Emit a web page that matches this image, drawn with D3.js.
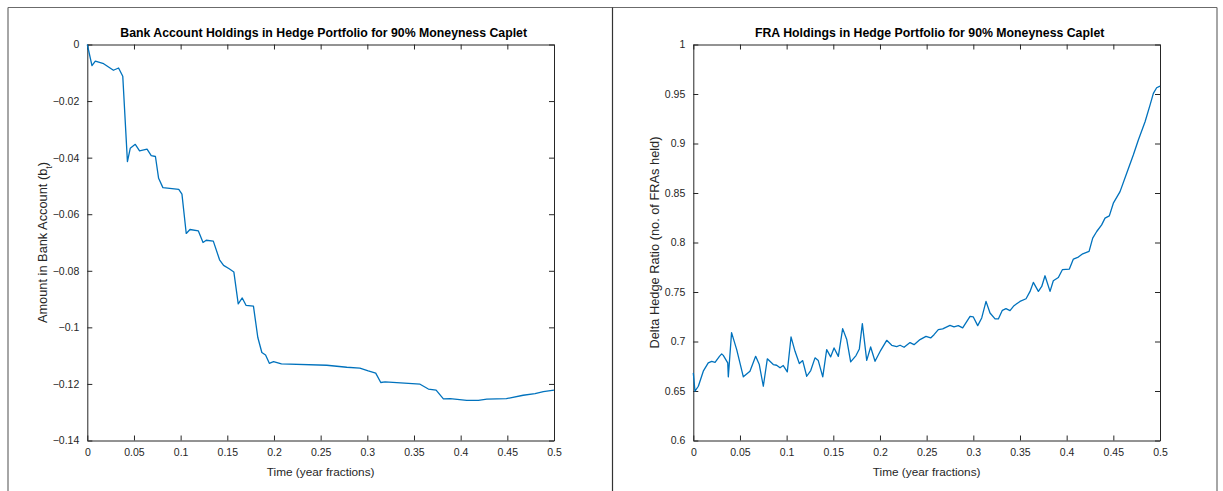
<!DOCTYPE html>
<html><head><meta charset="utf-8">
<script src="https://cdn.jsdelivr.net/npm/d3@7"></script>
<style>
html,body{margin:0;padding:0;background:#fff;}
svg{display:block;font-family:"Liberation Sans",Arial,Helvetica,sans-serif;}
</style></head>
<body>
<svg id="chart" width="1223" height="491"></svg>
<script>
// ---- data ----
const bankTime = [0,0.005,0.0086,0.0175,0.028,0.0335,0.038,0.043,0.046,0.0514,0.056,0.064,0.0685,0.073,0.0764,0.081,0.098,0.1014,0.106,0.110,0.119,0.124,0.1274,0.135,0.1417,0.146,0.152,0.157,0.1617,0.166,0.170,0.178,0.1827,0.187,0.191,0.195,0.1995,0.208,0.2566,0.278,0.292,0.301,0.309,0.3144,0.319,0.3565,0.3654,0.3737,0.3815,0.3887,0.4065,0.419,0.428,0.449,0.467,0.4797,0.4886,0.5];
const bankValue = [0,-0.0075,-0.0059,-0.0068,-0.0091,-0.0083,-0.0112,-0.0414,-0.0367,-0.0353,-0.0376,-0.037,-0.0393,-0.0396,-0.0473,-0.0506,-0.0512,-0.0529,-0.0668,-0.0654,-0.0659,-0.070,-0.0692,-0.0695,-0.0761,-0.0781,-0.0793,-0.0804,-0.0917,-0.0896,-0.0922,-0.0925,-0.1036,-0.1089,-0.1098,-0.1127,-0.1121,-0.1129,-0.1134,-0.1141,-0.1144,-0.1154,-0.1162,-0.1195,-0.1193,-0.1201,-0.1218,-0.1222,-0.1253,-0.1252,-0.1258,-0.1258,-0.1254,-0.1252,-0.124,-0.1234,-0.1227,-0.1222];

const fraTime = [0,0.0018,0.0054,0.0107,0.016,0.0197,0.0233,0.028,0.0304,0.0321,0.0369,0.0375,0.041,0.0465,0.0536,0.0607,0.0668,0.0707,0.075,0.0793,0.0857,0.0893,0.0929,0.0964,0.1007,0.1047,0.109,0.1136,0.1172,0.1215,0.1258,0.1304,0.1339,0.1387,0.1429,0.1472,0.1508,0.1554,0.16,0.1644,0.1686,0.1743,0.1779,0.1811,0.1858,0.19,0.1947,0.2008,0.2072,0.2126,0.2179,0.2215,0.2258,0.2322,0.2365,0.2429,0.2493,0.2543,0.2579,0.2625,0.2672,0.275,0.2793,0.2839,0.2886,0.2965,0.30,0.3047,0.309,0.3136,0.3179,0.3233,0.3268,0.3311,0.335,0.3393,0.3436,0.35,0.3565,0.3608,0.3643,0.3697,0.3733,0.3768,0.3822,0.3857,0.3911,0.3954,0.4029,0.4072,0.4125,0.4172,0.424,0.4279,0.4322,0.4375,0.4411,0.4457,0.45,0.4572,0.4643,0.4714,0.4768,0.484,0.4893,0.4929,0.4964,0.5];
const fraValue = [0.6683,0.6498,0.6548,0.67,0.6784,0.68,0.679,0.685,0.6875,0.686,0.6784,0.6643,0.709,0.6918,0.6643,0.67,0.685,0.6767,0.6548,0.6825,0.6767,0.676,0.6734,0.6757,0.6693,0.7046,0.6901,0.6777,0.6807,0.6649,0.6707,0.6835,0.6807,0.6643,0.6918,0.6845,0.6935,0.685,0.713,0.702,0.6794,0.6858,0.6925,0.718,0.681,0.6945,0.68,0.6911,0.7012,0.6962,0.6949,0.6962,0.6942,0.6989,0.6968,0.7019,0.7052,0.7036,0.7069,0.712,0.7127,0.7163,0.7147,0.716,0.7137,0.7254,0.7248,0.716,0.7238,0.7405,0.7288,0.7228,0.7228,0.7315,0.7332,0.7312,0.7362,0.7405,0.7432,0.7506,0.7597,0.7506,0.7556,0.7664,0.7506,0.7614,0.7647,0.7725,0.7732,0.7833,0.7853,0.7886,0.791,0.8044,0.8111,0.8178,0.8246,0.8269,0.8397,0.8514,0.87,0.8884,0.9035,0.922,0.9388,0.9506,0.9563,0.958];

const xTicks = [0,0.05,0.1,0.15,0.2,0.25,0.3,0.35,0.4,0.45,0.5];
const bankTicks = [0,-0.02,-0.04,-0.06,-0.08,-0.1,-0.12,-0.14];
const fraTicks = [0.6,0.65,0.7,0.75,0.8,0.85,0.9,0.95,1];

const titles = ["Bank Account Holdings in Hedge Portfolio for 90% Moneyness Caplet",
                "FRA Holdings in Hedge Portfolio for 90% Moneyness Caplet"];
const xLabel = "Time (year fractions)";

// ---- drawing ----
const svg = d3.select("#chart");
const axisColor = "#262626";
const lineColor = "#0072BD";

// outer frame
const frame = svg.append("g").attr("stroke","#6b6b6b").attr("stroke-width",1.2).attr("fill","none");
frame.append("line").attr("x1",8).attr("x2",1217).attr("y1",7.5).attr("y2",7.5);
frame.append("line").attr("x1",8).attr("x2",8).attr("y1",7.5).attr("y2",491);
frame.append("line").attr("x1",1217).attr("x2",1217).attr("y1",7.5).attr("y2",491);
frame.append("line").attr("x1",612.5).attr("x2",612.5).attr("y1",7.5).attr("y2",491).attr("stroke","#333");

function panel(opts){
  const {x0,x1,y0,y1,ydom,yticks,ytickFmt,times,values,title,ylabelParts,ylabelX} = opts;
  const x = d3.scaleLinear().domain([0,0.5]).range([x0,x1]);
  const y = d3.scaleLinear().domain(ydom).range([y1,y0]);
  const g = svg.append("g");

  const ax = d3.axisBottom(x).tickValues(xTicks).tickFormat(d3.format("")).tickSizeInner(-5).tickSizeOuter(0).tickPadding(10);
  const gb = g.append("g").attr("transform",`translate(0,${y1})`).call(ax);
  const at = d3.axisTop(x).tickValues(xTicks).tickFormat("").tickSizeInner(-5).tickSizeOuter(0);
  const gt = g.append("g").attr("transform",`translate(0,${y0})`).call(at);
  const ay = d3.axisLeft(y).tickValues(yticks).tickFormat(ytickFmt).tickSizeInner(-5).tickSizeOuter(0).tickPadding(8);
  const gl = g.append("g").attr("transform",`translate(${x0},0)`).call(ay);
  const ar = d3.axisRight(y).tickValues(yticks).tickFormat("").tickSizeInner(-5).tickSizeOuter(0);
  const gr = g.append("g").attr("transform",`translate(${x1},0)`).call(ar);

  [gb,gt,gl,gr].forEach(a=>{
    a.selectAll("path").attr("stroke",axisColor).attr("stroke-width",1);
    a.selectAll("line").attr("stroke",axisColor).attr("stroke-width",1);
    a.selectAll("text").attr("fill",axisColor).attr("font-size",10.5)
      .attr("font-family","'Liberation Sans',Arial,sans-serif");
  });
  gb.selectAll("text").attr("dy","0.55em");

  const data = times.map((t,i)=>[t,values[i]]);
  g.append("path").datum(data)
    .attr("fill","none").attr("stroke",lineColor).attr("stroke-width",1.3)
    .attr("stroke-linejoin","round")
    .attr("d",d3.line().x(d=>x(d[0])).y(d=>y(d[1])));

  g.append("text").attr("x",(x0+x1)/2 + 3).attr("y",y0-8)
    .attr("text-anchor","middle").attr("font-weight","bold").attr("font-size",12.3)
    .attr("fill","#000").text(title);
  g.append("text").attr("x",(x0+x1)/2).attr("y",y1+35)
    .attr("text-anchor","middle").attr("font-size",11.8).attr("fill",axisColor).text(xLabel);
  const yl = g.append("text")
    .attr("transform",`translate(${ylabelX},${(y0+y1)/2}) rotate(-90)`)
    .attr("text-anchor","middle").attr("font-size",12.8).attr("fill",axisColor);
  ylabelParts.forEach(p=>{
    const ts = yl.append("tspan").text(p.text);
    if(p.sub){ ts.attr("baseline-shift","sub").attr("font-size",9); }
  });
}

const fmt2 = d => d===0 ? "0" : d3.format("")(+d.toFixed(2));

panel({x0:87.3,x1:554,y0:44.5,y1:440.5,ydom:[-0.14,0],yticks:bankTicks,
  ytickFmt:fmt2,times:bankTime,values:bankValue,title:titles[0],
  ylabelParts:[{text:"Amount in Bank Account (b"},{text:"t",sub:true},{text:")"}],ylabelX:47});
panel({x0:693.3,x1:1160,y0:44.5,y1:440.5,ydom:[0.6,1],yticks:fraTicks,
  ytickFmt:fmt2,times:fraTime,values:fraValue,title:titles[1],
  ylabelParts:[{text:"Delta Hedge Ratio (no. of FRAs held)"}],ylabelX:659});
</script>
</body></html>
